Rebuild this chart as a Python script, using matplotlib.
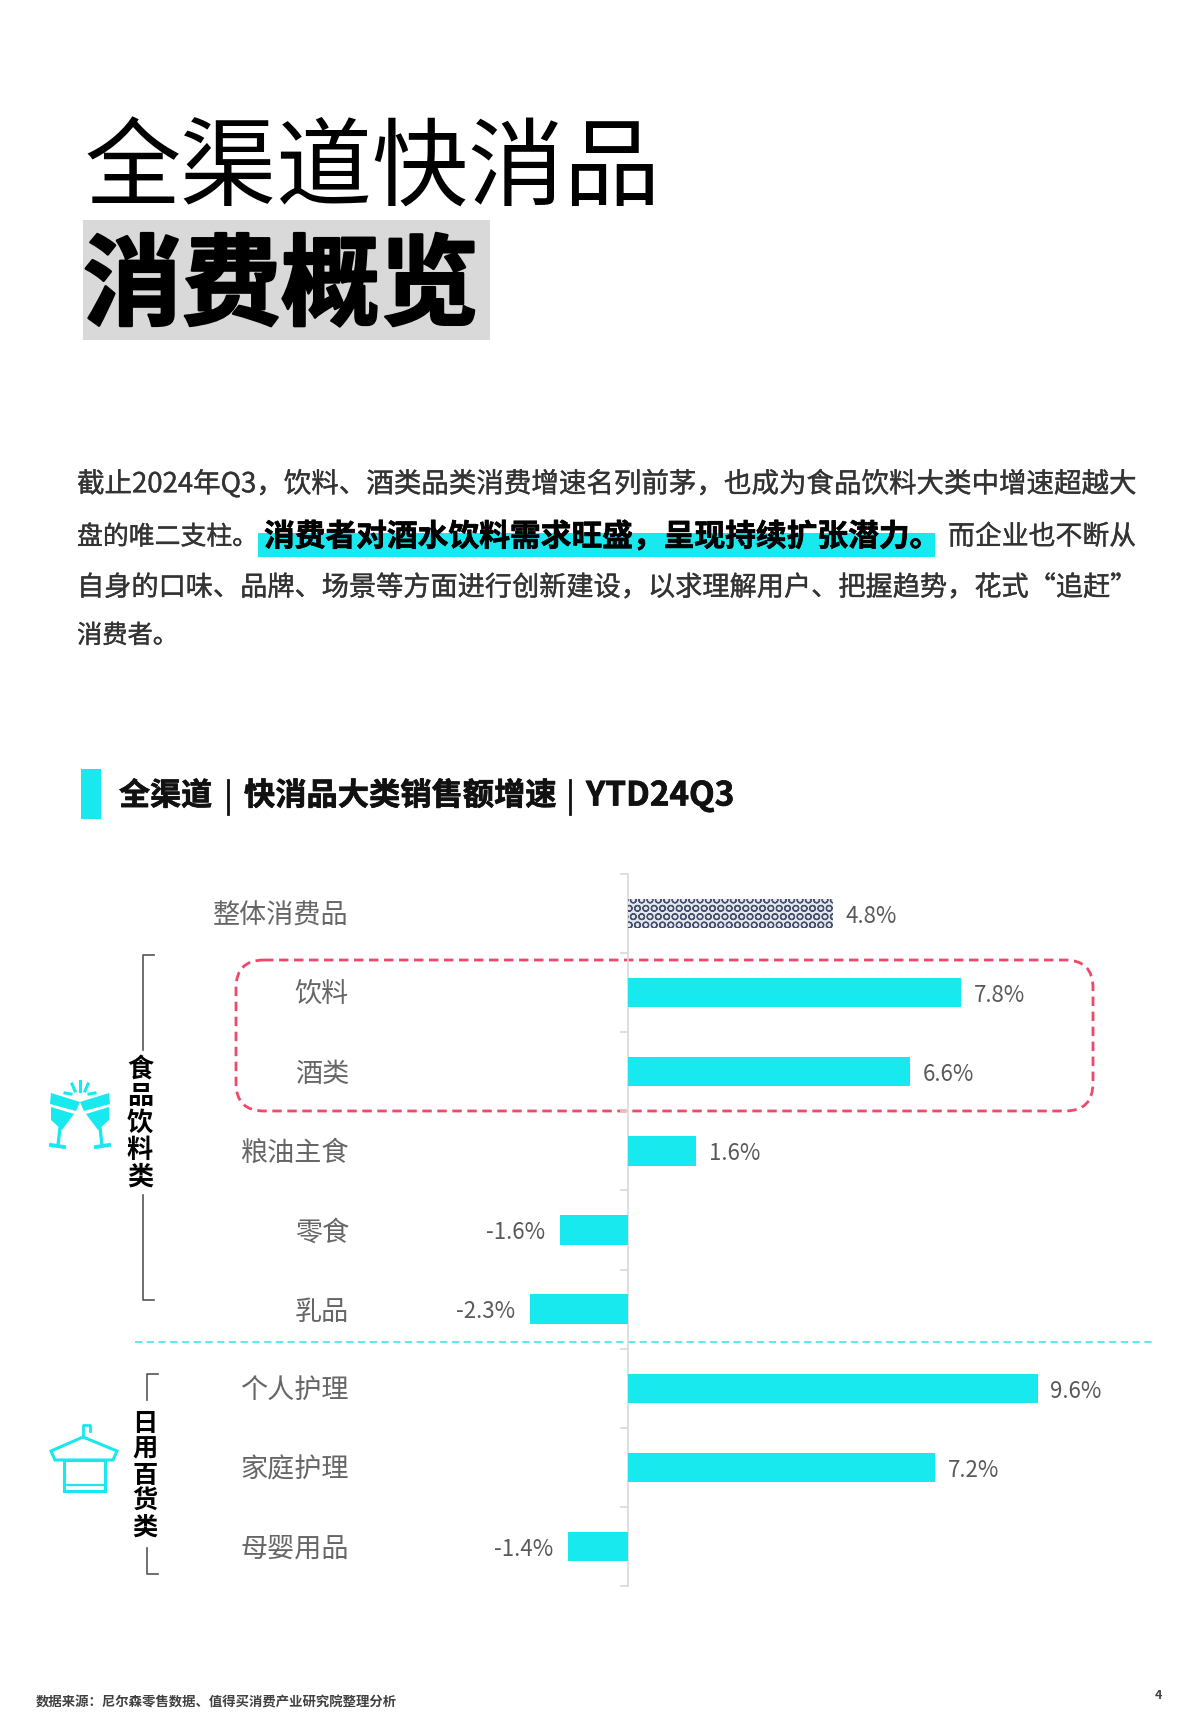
import matplotlib
matplotlib.use("Agg")
import matplotlib.pyplot as plt
import matplotlib.patheffects as pe
from matplotlib.patches import Rectangle, FancyBboxPatch, Polygon
from matplotlib.lines import Line2D

plt.rcParams['font.family'] = ['Noto Sans CJK SC', 'DejaVu Sans']
plt.rcParams['hatch.linewidth'] = 0.9

categories = ['整体消费品', '饮料', '酒类', '粮油主食', '零食', '乳品', '个人护理', '家庭护理', '母婴用品']
values = [4.8, 7.8, 6.6, 1.6, -1.6, -2.3, 9.6, 7.2, -1.4]
title_lines = ['全渠道快消品', '消费概览']
body_lines = [
    [('截止2024年Q3，饮料、酒类品类消费增速名列前茅，也成为食品饮料大类中增速超越大', 77, 1136, 'normal')],
    [('盘的唯二支柱。', 77, 258, 'normal'), ('消费者对酒水饮料需求旺盛，呈现持续扩张潜力。', 264, 940, 'bold'),
     ('而企业也不断从', 948, 1136, 'normal')],
    [('自身的口味、品牌、场景等方面进行创新建设，以求理解用户、把握趋势，花式“追赶”', 77, 1137, 'normal')],
    [('消费者。', 77, 178, 'normal')],
]
body_y = [484, 537, 588, 636]
heading_parts = [('全渠道', 119, 212), ('|', 225, 231), ('快消品大类销售额增速', 244, 556), ('|', 567, 573), ('YTD24Q3', 586, 734)]
source = '数据来源：尼尔森零售数据、值得买消费产业研究院整理分析'
group_a = '食品饮料类'
group_b = '日用百货类'

W, H = 1200, 1735
CYAN = '#17E9EF'
fig = plt.figure(figsize=(W / 100, H / 100), dpi=100, facecolor='white')
bg = fig.add_axes([0, 0, 1, 1])
bg.set_xlim(0, W); bg.set_ylim(H, 0); bg.axis('off')


def fit(x0, x1, yc, s, weight='normal', color='#333333', fs=20, z=5, stroke=0):
    t = bg.text(x0, yc, s, fontsize=fs, fontweight=weight, color=color, va='center', ha='left', zorder=z)
    w = t.get_window_extent(fig.canvas.get_renderer()).width
    t.set_fontsize(fs * (x1 - x0) / w)
    if stroke:
        t.set_path_effects([pe.withStroke(linewidth=stroke, foreground=color)])
    return t


# title
fit(84, 660, 171, title_lines[0], color='#000000', fs=66)
bg.add_patch(Rectangle((83, 220), 407, 120, fc='#D9D9D9', ec='none', zorder=1))
fit(83, 479, 288, title_lines[1], weight='bold', color='#000000', fs=68, stroke=1.8)

# body paragraph
bg.add_patch(Rectangle((258, 533), 677, 24, fc=CYAN, ec='none', zorder=1))
for line, y in zip(body_lines, body_y):
    for s, x0, x1, w in line:
        bold = w == 'bold'
        fit(x0, x1, y, s, weight=w, color='#000000' if bold else '#333333', fs=19, stroke=0.5 if bold else 0.25)

# section heading
bg.add_patch(Rectangle((81, 769), 20, 50, fc=CYAN, ec='none'))
for s, x0, x1 in heading_parts:
    if s == '|':
        bg.add_line(Line2D([(x0 + x1) / 2] * 2, [780, 814], color='#111111', lw=2))
    else:
        fit(x0, x1, 796, s, weight='bold', color='#111111', fs=22, stroke=0.5)

# bar chart
ZERO, PX, TOP, BOTTOM, L, R = 628, 42.7, 874, 1586, 300, 1150
ax = fig.add_axes([L / W, 1 - BOTTOM / H, (R - L) / W, (BOTTOM - TOP) / H])
ax.patch.set_alpha(0)
ax.set_xlim((L - ZERO) / PX, (R - ZERO) / PX)
ys = list(range(len(categories)))
ax.set_ylim(len(categories) - 0.5, -0.5)
bars = ax.barh(ys, values, height=0.37, color=CYAN, zorder=3)
bars[0].set(facecolor='#E4E7EE', edgecolor='#44506E', hatch='OO', linewidth=0)
labels = ax.bar_label(bars, labels=[f'{x:.1f}%' for x in values], padding=9, fontsize=16, color='#595959')
for t, v in zip(labels, values):
    t.xyann = (t.xyann[0] - (1.5 if v < 0 else 0), t.xyann[1] - 2)
for s in ('top', 'right', 'bottom'):
    ax.spines[s].set_visible(False)
ax.spines['left'].set_position(('data', 0))
ax.spines['left'].set_color('#D9D9D9')
ax.spines['left'].set_linewidth(1.2)
ax.set_xticks([])
ax.set_yticks(ys)
ax.set_yticklabels(categories, fontsize=19.5, color='#666666')
ax.tick_params(axis='y', which='major', length=0, pad=(ZERO - 349) * 0.72)
ax.set_yticks([y - 0.5 for y in ys] + [len(ys) - 0.5], minor=True)
ax.tick_params(axis='y', which='minor', length=6, width=1.2, color='#D9D9D9')

# dashed highlight and separator
box = FancyBboxPatch((236, 960), 857, 151, boxstyle='round,pad=0,rounding_size=28',
                     fc='none', ec='#F0486A', lw=2, ls=(0, (3.4, 2)), zorder=6)
bg.add_patch(box)
bg.add_line(Line2D([135, 1152], [1342, 1342], color='#4FE8EC', lw=1.3, ls=(0, (4, 2.5))))


# group brackets and vertical labels
def bracket(x, y0, y1, g0, g1):
    c = '#555555'
    bg.add_line(Line2D([x + 11, x, x], [y0, y0, g0], color=c, lw=1.2))
    bg.add_line(Line2D([x, x, x + 11], [g1, y1, y1], color=c, lw=1.2))


bracket(143, 955, 1300, 1050, 1195)
bracket(147, 1374, 1574, 1400, 1548)
for i, ch in enumerate(group_a):
    bg.text(140, 1069.5 + i * 27, ch, fontsize=18.8, fontweight='bold', color='#000000', ha='center', va='center')
for i, ch in enumerate(group_b):
    bg.text(145, 1423.5 + i * 26, ch, fontsize=18.2, fontweight='bold', color='#000000', ha='center', va='center')

# toast icon
for sgn, cx in ((-1, 66), (1, 94)):
    top = [(cx + sgn * 15, 1093), (cx - sgn * 14, 1102), (cx - sgn * 10, 1111), (cx + sgn * 16, 1104)]
    bg.add_patch(Polygon(top, fc=CYAN, ec='none'))
    cup = [(cx - sgn * 8, 1114), (cx + sgn * 15, 1107), (cx + sgn * 15, 1120), (cx + sgn * 4, 1130)]
    bg.add_patch(Polygon(cup, fc=CYAN, ec='none'))
    bg.add_line(Line2D([cx + sgn * 6, cx + sgn * 8], [1128, 1145], color=CYAN, lw=2.4))
    bg.add_line(Line2D([cx + sgn * 2, cx + sgn * 15], [1147, 1145], color=CYAN, lw=2.8))
for (a, b, c, d) in ((80, 1081, 80, 1091), (72, 1084, 75, 1091), (88, 1084, 85, 1091),
                     (65, 1093, 71, 1094), (95, 1093, 89, 1094)):
    bg.add_line(Line2D([a, c], [b, d], color=CYAN, lw=2.2))

# towel icon
bg.add_line(Line2D([83, 83, 90, 90], [1437, 1425, 1425, 1431], color=CYAN, lw=2))
bg.add_patch(Polygon([(83, 1437), (51, 1451), (55, 1460), (113, 1460), (117, 1451)], closed=True,
                     fc='none', ec=CYAN, lw=2.2))
bg.add_patch(Rectangle((64, 1460), 41, 31, fc='none', ec=CYAN, lw=2.2))
bg.add_line(Line2D([64, 105], [1485, 1485], color=CYAN, lw=1.6))

# footer
fit(36, 396, 1702, source, color='#404040', weight='bold', fs=10)
bg.text(1158, 1695, '4', fontsize=9, fontweight='bold', color='#404040', ha='center', va='center')

fig.savefig('out.png', dpi=100, facecolor='white')
